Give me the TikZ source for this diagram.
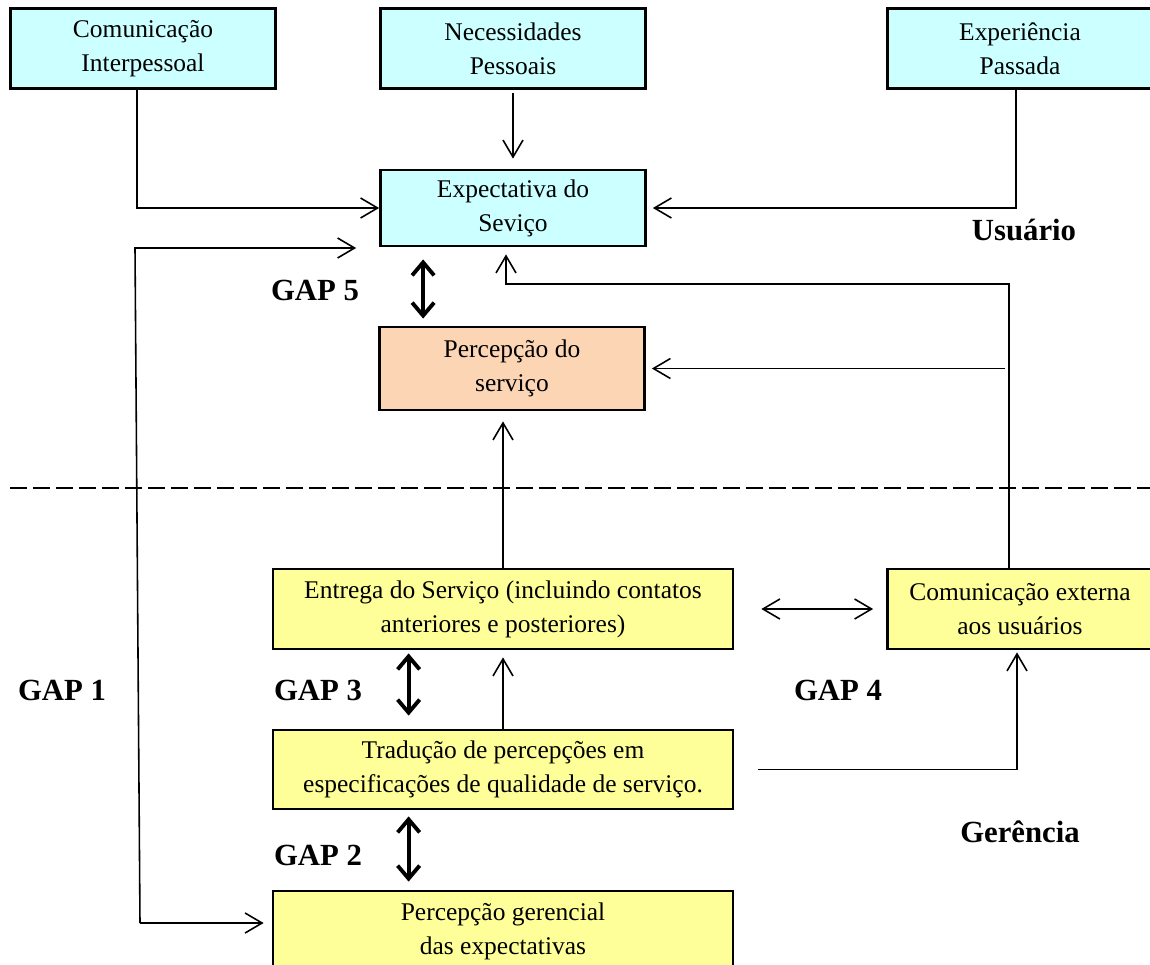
\documentclass[tikz,border=0pt]{standalone}
\usepackage{fontspec}
\setmainfont{Liberation Serif}
\usetikzlibrary{arrows.meta}

\definecolor{ciano}{HTML}{CCFFFF}
\definecolor{salmao}{HTML}{FCD5B4}
\definecolor{amarelo}{HTML}{FFFF99}

\tikzset{
  caixa/.style={draw, line width=1.6pt, align=center, inner sep=2pt,
    minimum width=5.3cm, minimum height=1.6cm,
    font=\fontsize{14.5}{19.5}\selectfont},
  larga/.style={caixa, minimum width=9.2cm},
  seta/.style={line width=0.9pt, -{Straight Barb[length=0.34cm,width=0.4cm]}},
  seta2/.style={line width=0.9pt, {Straight Barb[length=0.34cm,width=0.4cm]}-{Straight Barb[length=0.34cm,width=0.4cm]}},
  gaparrow/.style={line width=2.2pt, {Straight Barb[length=0.26cm,width=0.44cm]}-{Straight Barb[length=0.26cm,width=0.44cm]}},
  rotulo/.style={font=\fontsize{17.5}{21}\selectfont\bfseries}
}

\begin{document}
\begin{tikzpicture}[x=0.02cm, y=-0.02cm]
    \useasboundingbox (0,0) rectangle (1150,964);

    % --- lado do usuário ---
    \node[caixa, fill=ciano] (ci) at (143,48.5) {Comunicação\\Interpessoal};
    \node[caixa, fill=ciano] (np) at (513,48.5) {Necessidades\\Pessoais};
    \node[caixa, fill=ciano] (ep) at (1020,48.5) {Experiência\\Passada};
    \node[caixa, fill=ciano, minimum height=1.52cm] (es) at (513,208) {Expectativa do\\Seviço};
    \node[caixa, fill=salmao, minimum height=1.66cm] (ps) at (512,368.5) {Percepção do\\serviço};

    % --- linha divisória ---
    \draw[line width=1pt, dash pattern=on 0.34cm off 0.12cm] (10,488) -- (1150,488);

    % --- lado da gerência ---
    \node[larga, fill=amarelo] (ent) at (503,609) {Entrega do Serviço (incluindo contatos\\anteriores e posteriores)};
    \node[caixa, fill=amarelo] (ce) at (1020,609) {Comunicação externa\\aos usuários};
    \node[larga, fill=amarelo, minimum height=1.58cm] (tr) at (503,769.5) {Tradução de percepções em\\especificações de qualidade de serviço.};
    \node[larga, fill=amarelo] (pg) at (503,931) {Percepção gerencial\\das expectativas};

    % --- rótulos ---
    \node[rotulo] (g5) at (315,290) {GAP 5};
    \node[rotulo] (g3) at (318,690) {GAP 3};
    \node[rotulo] (g1) at (62,690) {GAP 1};
    \node[rotulo] (g4) at (838,690) {GAP 4};
    \node[rotulo] (g2) at (318,855) {GAP 2};
    \node[rotulo] (usu) at (1024,230) {Usuário};
    \node[rotulo] (ger) at (1020,832) {Gerência};

    % --- setas finas ---
    \draw[seta] ([xshift=-0.12cm]ci.south) |- (es.west);
    \draw[seta, shorten <=2pt, shorten >=0.2cm] (np.south) -- (es.north);
    \draw[seta] ([xshift=-0.08cm]ep.south) |- ([xshift=0.12cm]es.east);

    \coordinate (g1top) at (135,248);
    \coordinate (g1bot) at (140,923);
    \draw[seta] (g1bot) -- (g1top) -- ([xshift=-0.46cm]es.south west |- g1top);
    \draw[seta, shorten >=0.16cm] (g1bot) -- (pg.west |- g1bot);

    \coordinate (fb) at (1009,284);
    \draw[seta] (ce.north -| fb) -- (fb) -| ([xshift=-0.14cm,yshift=-0.14cm]es.south);
    \draw[seta] ([xshift=-0.08cm]fb |- ps.east) -- ([xshift=0.12cm]ps.east);

    \draw[seta] (ent.north) -- ([yshift=-0.2cm]ent.north |- ps.south);
    \draw[seta2] ([xshift=0.54cm]ent.east) -- ([xshift=-0.26cm]ce.west);
    \draw[seta] (tr.north) -- ([yshift=-0.14cm]ent.south);
    \draw[seta] ([xshift=0.48cm]tr.east) -| ([xshift=-0.06cm,yshift=-0.04cm]ce.south);

    % --- setas dos gaps ---
    \draw[gaparrow] ([xshift=0.88cm,yshift=-0.24cm]es.south west) -- ([xshift=0.88cm,yshift=0.14cm]es.south west |- ps.north);
    \draw[gaparrow] ([xshift=2.74cm,yshift=-0.06cm]ent.south west) -- ([xshift=2.74cm,yshift=0.26cm]ent.south west |- tr.north);
    \draw[gaparrow] ([xshift=2.74cm,yshift=-0.12cm]tr.south west) -- ([xshift=2.74cm,yshift=0.16cm]tr.south west |- pg.north);
\end{tikzpicture}
\end{document}
